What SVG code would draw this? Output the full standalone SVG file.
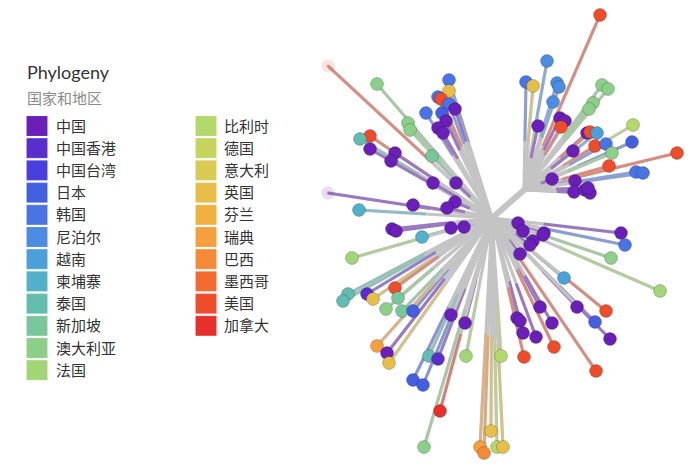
<svg xmlns="http://www.w3.org/2000/svg" width="700" height="473" viewBox="0 0 700 473">
<style>
.t{font-family:Lato,"Noto Sans","Noto Sans CJK SC",sans-serif}
.h{font-size:18px;fill:#333}
.sub{font-size:15px;fill:#8a8a8a;font-family:"Noto Sans CJK SC",sans-serif}
.lab{font-size:15px;fill:#333;font-family:"Noto Sans CJK SC",sans-serif}
.sw{stroke-width:1;stroke-opacity:.9}
.g{fill:none;stroke:#c4c4c4;stroke-width:3.2;stroke-linecap:round}
.o{fill:none;stroke-width:3;stroke-opacity:.45;stroke-dasharray:55 300}
.n{stroke:#000;stroke-opacity:.2;stroke-width:1}
.pale{fill-opacity:.15;stroke-opacity:.03}
.fpu{fill:#6a1fb8}.spu{stroke:#6a1fb8}
.fhk{fill:#5b2dcc}.shk{stroke:#5b2dcc}
.ftw{fill:#4a3fdc}.stw{stroke:#4a3fdc}
.fjp{fill:#4460e0}.sjp{stroke:#4460e0}
.fkr{fill:#4a74e4}.skr{stroke:#4a74e4}
.fnp{fill:#4b8de0}.snp{stroke:#4b8de0}
.fvn{fill:#4aa0d8}.svn{stroke:#4aa0d8}
.fkh{fill:#52b0c8}.skh{stroke:#52b0c8}
.fth{fill:#62bcb0}.sth{stroke:#62bcb0}
.fsg{fill:#78c69a}.ssg{stroke:#78c69a}
.fau{fill:#8ccf88}.sau{stroke:#8ccf88}
.ffr{fill:#a0d675}.sfr{stroke:#a0d675}
.fbe{fill:#b3d86c}.sbe{stroke:#b3d86c}
.fde{fill:#c6d45e}.sde{stroke:#c6d45e}
.fit{fill:#d9ca52}.sit{stroke:#d9ca52}
.fuk{fill:#e6be48}.suk{stroke:#e6be48}
.ffi{fill:#efb140}.sfi{stroke:#efb140}
.fse{fill:#f5a03c}.sse{stroke:#f5a03c}
.fbr{fill:#f48a36}.sbr{stroke:#f48a36}
.fmx{fill:#f26a30}.smx{stroke:#f26a30}
.fus{fill:#ef4c2c}.sus{stroke:#ef4c2c}
.fca{fill:#e8302a}.sca{stroke:#e8302a}
</style>
<rect width="700" height="473" fill="#fff"/>
<g id="legend">
<text class="t h" x="27" y="79">Phylogeny</text>
<text class="sub" x="27" y="104">国家和地区</text>
<g id="legend-items">
<rect class="sw fpu spu" x="27" y="116.5" width="20" height="19"/><text class="lab" x="56" y="131.5">中国</text>
<rect class="sw fhk shk" x="27" y="138.7" width="20" height="19"/><text class="lab" x="56" y="153.7">中国香港</text>
<rect class="sw ftw stw" x="27" y="160.9" width="20" height="19"/><text class="lab" x="56" y="175.9">中国台湾</text>
<rect class="sw fjp sjp" x="27" y="183.1" width="20" height="19"/><text class="lab" x="56" y="198.1">日本</text>
<rect class="sw fkr skr" x="27" y="205.3" width="20" height="19"/><text class="lab" x="56" y="220.3">韩国</text>
<rect class="sw fnp snp" x="27" y="227.5" width="20" height="19"/><text class="lab" x="56" y="242.5">尼泊尔</text>
<rect class="sw fvn svn" x="27" y="249.7" width="20" height="19"/><text class="lab" x="56" y="264.7">越南</text>
<rect class="sw fkh skh" x="27" y="271.9" width="20" height="19"/><text class="lab" x="56" y="286.9">柬埔寨</text>
<rect class="sw fth sth" x="27" y="294.1" width="20" height="19"/><text class="lab" x="56" y="309.1">泰国</text>
<rect class="sw fsg ssg" x="27" y="316.3" width="20" height="19"/><text class="lab" x="56" y="331.3">新加坡</text>
<rect class="sw fau sau" x="27" y="338.5" width="20" height="19"/><text class="lab" x="56" y="353.5">澳大利亚</text>
<rect class="sw ffr sfr" x="27" y="360.7" width="20" height="19"/><text class="lab" x="56" y="375.7">法国</text>
<rect class="sw fbe sbe" x="196" y="116.5" width="20" height="19"/><text class="lab" x="224" y="131.5">比利时</text>
<rect class="sw fde sde" x="196" y="138.7" width="20" height="19"/><text class="lab" x="224" y="153.7">德国</text>
<rect class="sw fit sit" x="196" y="160.9" width="20" height="19"/><text class="lab" x="224" y="175.9">意大利</text>
<rect class="sw fuk suk" x="196" y="183.1" width="20" height="19"/><text class="lab" x="224" y="198.1">英国</text>
<rect class="sw ffi sfi" x="196" y="205.3" width="20" height="19"/><text class="lab" x="224" y="220.3">芬兰</text>
<rect class="sw fse sse" x="196" y="227.5" width="20" height="19"/><text class="lab" x="224" y="242.5">瑞典</text>
<rect class="sw fbr sbr" x="196" y="249.7" width="20" height="19"/><text class="lab" x="224" y="264.7">巴西</text>
<rect class="sw fmx smx" x="196" y="271.9" width="20" height="19"/><text class="lab" x="224" y="286.9">墨西哥</text>
<rect class="sw fus sus" x="196" y="294.1" width="20" height="19"/><text class="lab" x="224" y="309.1">美国</text>
<rect class="sw fca sca" x="196" y="316.3" width="20" height="19"/><text class="lab" x="224" y="331.3">加拿大</text>
</g>
</g>
<g id="connectors">
<path class="g" style="stroke-width:6" d="M492 218L524 190"/>
<path class="g" d="M492 218L328 66"/><path class="o sus" d="M328 66L492 218" pathLength="100" style="stroke-dasharray:62 300"/>
<path class="g" d="M492 218L377 84"/><path class="o sau" d="M377 84L492 218" pathLength="100" style="stroke-dasharray:60 300"/>
<path class="g" d="M492 218L408 123"/><path class="o sau" d="M408 123L492 218" pathLength="100" style="stroke-dasharray:40 300"/>
<path class="g" d="M492 218L410 130"/><path class="o sau" d="M410 130L492 218" pathLength="100" style="stroke-dasharray:40 300"/>
<path class="g" d="M492 218L432 156"/><path class="o ssg" d="M432 156L492 218" pathLength="100" style="stroke-dasharray:35 300"/>
<path class="g" d="M492 218L449 80"/><path class="o skr" d="M449 80L492 218" pathLength="100" style="stroke-dasharray:45 300"/>
<path class="g" d="M492 218L449 91"/><path class="o suk" d="M449 91L492 218" pathLength="100" style="stroke-dasharray:40 300"/>
<path class="g" d="M492 218L438 97"/><path class="o skr" d="M438 97L492 218" pathLength="100" style="stroke-dasharray:45 300"/>
<path class="g" d="M492 218L441 99"/><path class="o sus" d="M441 99L492 218" pathLength="100" style="stroke-dasharray:40 300"/>
<path class="g" d="M492 218L449 104"/><path class="o skr" d="M449 104L492 218" pathLength="100" style="stroke-dasharray:35 300"/>
<path class="g" d="M492 218L455 109"/><path class="o spu" d="M455 109L492 218" pathLength="100" style="stroke-dasharray:30 300"/>
<path class="g" d="M492 218L426 113"/><path class="o skr" d="M426 113L492 218" pathLength="100" style="stroke-dasharray:40 300"/>
<path class="g" d="M492 218L442 113"/><path class="o sjp" d="M442 113L492 218" pathLength="100" style="stroke-dasharray:35 300"/>
<path class="g" d="M492 218L446 121"/><path class="o spu" d="M446 121L492 218" pathLength="100" style="stroke-dasharray:30 300"/>
<path class="g" d="M492 218L438 128"/><path class="o spu" d="M438 128L492 218" pathLength="100" style="stroke-dasharray:30 300"/>
<path class="g" d="M492 218L443 133"/><path class="o spu" d="M443 133L492 218" pathLength="100" style="stroke-dasharray:30 300"/>
<path class="g" d="M492 218L370 136"/><path class="o sus" d="M370 136L492 218" pathLength="100" style="stroke-dasharray:45 300"/>
<path class="g" d="M492 218L360 139"/><path class="o sth" d="M360 139L492 218" pathLength="100" style="stroke-dasharray:45 300"/>
<path class="g" d="M492 218L370 149"/><path class="o spu" d="M370 149L492 218" pathLength="100" style="stroke-dasharray:45 300"/>
<path class="g" d="M492 218L395 153"/><path class="o spu" d="M395 153L492 218" pathLength="100" style="stroke-dasharray:40 300"/>
<path class="g" d="M492 218L391 161"/><path class="o spu" d="M391 161L492 218" pathLength="100" style="stroke-dasharray:40 300"/>
<path class="g" d="M492 218L433 183"/><path class="o spu" d="M433 183L492 218" pathLength="100" style="stroke-dasharray:40 300"/>
<path class="g" d="M492 218L456 183"/><path class="o spu" d="M456 183L492 218" pathLength="100" style="stroke-dasharray:40 300"/>
<path class="g" d="M492 218L328 193"/><path class="o spu" d="M328 193L492 218" pathLength="100" style="stroke-dasharray:62 300"/>
<path class="g" d="M492 218L413 205"/><path class="o spu" d="M413 205L492 218" pathLength="100" style="stroke-dasharray:50 300"/>
<path class="g" d="M492 218L455 202"/><path class="o spu" d="M455 202L492 218" pathLength="100" style="stroke-dasharray:40 300"/>
<path class="g" d="M492 218L447 208"/><path class="o spu" d="M447 208L492 218" pathLength="100" style="stroke-dasharray:40 300"/>
<path class="g" d="M492 218L359 210"/><path class="o skh" d="M359 210L492 218" pathLength="100" style="stroke-dasharray:50 300"/>
<path class="g" d="M492 218L392 229"/><path class="o spu" d="M392 229L492 218" pathLength="100" style="stroke-dasharray:55 300"/>
<path class="g" d="M492 218L396 231"/><path class="o spu" d="M396 231L492 218" pathLength="100" style="stroke-dasharray:55 300"/>
<path class="g" d="M492 218L451 228"/><path class="o spu" d="M451 228L492 218" pathLength="100" style="stroke-dasharray:40 300"/>
<path class="g" d="M492 218L464 227"/><path class="o spu" d="M464 227L492 218" pathLength="100" style="stroke-dasharray:40 300"/>
<path class="g" d="M492 218L422 237"/><path class="o skh" d="M422 237L492 218" pathLength="100" style="stroke-dasharray:40 300"/>
<path class="g" d="M492 218L352 258"/><path class="o sfr" d="M352 258L492 218" pathLength="100" style="stroke-dasharray:55 300"/>
<path class="g" d="M492 218L348 294"/><path class="o sth" d="M348 294L492 218" pathLength="100" style="stroke-dasharray:55 300"/>
<path class="g" d="M492 218L343 301"/><path class="o sth" d="M343 301L492 218" pathLength="100" style="stroke-dasharray:55 300"/>
<path class="g" d="M492 218L367 294"/><path class="o shk" d="M367 294L492 218" pathLength="100" style="stroke-dasharray:55 300"/>
<path class="g" d="M492 218L373 299"/><path class="o suk" d="M373 299L492 218" pathLength="100" style="stroke-dasharray:50 300"/>
<path class="g" d="M492 218L395 288"/><path class="o sus" d="M395 288L492 218" pathLength="100" style="stroke-dasharray:45 300"/>
<path class="g" d="M492 218L398 298"/><path class="o ssg" d="M398 298L492 218" pathLength="100" style="stroke-dasharray:45 300"/>
<path class="g" d="M492 218L386 309"/><path class="o sau" d="M386 309L492 218" pathLength="100" style="stroke-dasharray:45 300"/>
<path class="g" d="M492 218L402 311"/><path class="o ssg" d="M402 311L492 218" pathLength="100" style="stroke-dasharray:45 300"/>
<path class="g" d="M492 218L413 311"/><path class="o sjp" d="M413 311L492 218" pathLength="100" style="stroke-dasharray:45 300"/>
<path class="g" d="M492 218L377 346"/><path class="o sse" d="M377 346L492 218" pathLength="100" style="stroke-dasharray:50 300"/>
<path class="g" d="M492 218L387 353"/><path class="o spu" d="M387 353L492 218" pathLength="100" style="stroke-dasharray:55 300"/>
<path class="g" d="M492 218L389 363"/><path class="o suk" d="M389 363L492 218" pathLength="100" style="stroke-dasharray:55 300"/>
<path class="g" d="M492 218L451 315"/><path class="o spu" d="M451 315L492 218" pathLength="100" style="stroke-dasharray:40 300"/>
<path class="g" d="M492 218L465 323"/><path class="o spu" d="M465 323L492 218" pathLength="100" style="stroke-dasharray:40 300"/>
<path class="g" d="M492 218L429 356"/><path class="o sth" d="M429 356L492 218" pathLength="100" style="stroke-dasharray:45 300"/>
<path class="g" d="M492 218L438 359"/><path class="o shk" d="M438 359L492 218" pathLength="100" style="stroke-dasharray:50 300"/>
<path class="g" d="M492 218L466 356"/><path class="o sfr" d="M466 356L492 218" pathLength="100" style="stroke-dasharray:45 300"/>
<path class="g" d="M492 218L413 380"/><path class="o sjp" d="M413 380L492 218" pathLength="100" style="stroke-dasharray:45 300"/>
<path class="g" d="M492 218L423 385"/><path class="o sjp" d="M423 385L492 218" pathLength="100" style="stroke-dasharray:45 300"/>
<path class="g" d="M492 218L440 411"/><path class="o sca" d="M440 411L492 218" pathLength="100" style="stroke-dasharray:40 300"/>
<path class="g" d="M492 218L424 447"/><path class="o sau" d="M424 447L492 218" pathLength="100" style="stroke-dasharray:60 300"/>
<path class="g" d="M492 218L491 431"/><path class="o suk" d="M491 431L492 218" pathLength="100" style="stroke-dasharray:45 300"/>
<path class="g" d="M492 218L480 447"/><path class="o sse" d="M480 447L492 218" pathLength="100" style="stroke-dasharray:50 300"/>
<path class="g" d="M492 218L484 453"/><path class="o sbr" d="M484 453L492 218" pathLength="100" style="stroke-dasharray:50 300"/>
<path class="g" d="M492 218L497 447"/><path class="o sbe" d="M497 447L492 218" pathLength="100" style="stroke-dasharray:45 300"/>
<path class="g" d="M492 218L503 447"/><path class="o suk" d="M503 447L492 218" pathLength="100" style="stroke-dasharray:45 300"/>
<path class="g" d="M492 218L501 356"/><path class="o sbe" d="M501 356L492 218" pathLength="100" style="stroke-dasharray:40 300"/>
<path class="g" d="M492 218L518 223"/><path class="o spu" d="M518 223L492 218" pathLength="100" style="stroke-dasharray:50 300"/>
<path class="g" d="M492 218L523 231"/><path class="o spu" d="M523 231L492 218" pathLength="100" style="stroke-dasharray:50 300"/>
<path class="g" d="M492 218L544 233"/><path class="o spu" d="M544 233L492 218" pathLength="100" style="stroke-dasharray:50 300"/>
<path class="g" d="M492 218L543 235"/><path class="o spu" d="M543 235L492 218" pathLength="100" style="stroke-dasharray:50 300"/>
<path class="g" d="M492 218L621 233"/><path class="o spu" d="M621 233L492 218" pathLength="100" style="stroke-dasharray:60 300"/>
<path class="g" d="M492 218L625 245"/><path class="o skr" d="M625 245L492 218" pathLength="100" style="stroke-dasharray:60 300"/>
<path class="g" d="M492 218L533 241"/><path class="o spu" d="M533 241L492 218" pathLength="100" style="stroke-dasharray:40 300"/>
<path class="g" d="M492 218L530 245"/><path class="o spu" d="M530 245L492 218" pathLength="100" style="stroke-dasharray:40 300"/>
<path class="g" d="M492 218L520 254"/><path class="o spu" d="M520 254L492 218" pathLength="100" style="stroke-dasharray:40 300"/>
<path class="g" d="M492 218L611 258"/><path class="o sau" d="M611 258L492 218" pathLength="100" style="stroke-dasharray:60 300"/>
<path class="g" d="M492 218L660 291"/><path class="o sfr" d="M660 291L492 218" pathLength="100" style="stroke-dasharray:60 300"/>
<path class="g" d="M492 218L564 278"/><path class="o svn" d="M564 278L492 218" pathLength="100" style="stroke-dasharray:40 300"/>
<path class="g" d="M492 218L606 311"/><path class="o sus" d="M606 311L492 218" pathLength="100" style="stroke-dasharray:40 300"/>
<path class="g" d="M492 218L540 307"/><path class="o spu" d="M540 307L492 218" pathLength="100" style="stroke-dasharray:45 300"/>
<path class="g" d="M492 218L577 307"/><path class="o spu" d="M577 307L492 218" pathLength="100" style="stroke-dasharray:40 300"/>
<path class="g" d="M492 218L595 322"/><path class="o sjp" d="M595 322L492 218" pathLength="100" style="stroke-dasharray:35 300"/>
<path class="g" d="M492 218L610 339"/><path class="o spu" d="M610 339L492 218" pathLength="100" style="stroke-dasharray:30 300"/>
<path class="g" d="M492 218L517 318"/><path class="o spu" d="M517 318L492 218" pathLength="100" style="stroke-dasharray:50 300"/>
<path class="g" d="M492 218L520 321"/><path class="o spu" d="M520 321L492 218" pathLength="100" style="stroke-dasharray:50 300"/>
<path class="g" d="M492 218L552 323"/><path class="o spu" d="M552 323L492 218" pathLength="100" style="stroke-dasharray:45 300"/>
<path class="g" d="M492 218L523 333"/><path class="o spu" d="M523 333L492 218" pathLength="100" style="stroke-dasharray:45 300"/>
<path class="g" d="M492 218L536 337"/><path class="o spu" d="M536 337L492 218" pathLength="100" style="stroke-dasharray:45 300"/>
<path class="g" d="M492 218L554 347"/><path class="o sus" d="M554 347L492 218" pathLength="100" style="stroke-dasharray:60 300"/>
<path class="g" d="M492 218L524 357"/><path class="o sus" d="M524 357L492 218" pathLength="100" style="stroke-dasharray:50 300"/>
<path class="g" d="M492 218L596 371"/><path class="o sus" d="M596 371L492 218" pathLength="100" style="stroke-dasharray:75 300"/>
<path class="g" d="M524 190L600 15"/><path class="o sus" d="M600 15L524 190" pathLength="100" style="stroke-dasharray:75 300"/>
<path class="g" d="M524 190L547 61"/><path class="o snp" d="M547 61L524 190" pathLength="100" style="stroke-dasharray:55 300"/>
<path class="g" d="M524 190L526 82"/><path class="o skr" d="M526 82L524 190" pathLength="100" style="stroke-dasharray:55 300"/>
<path class="g" d="M524 190L533 86"/><path class="o suk" d="M533 86L524 190" pathLength="100" style="stroke-dasharray:55 300"/>
<path class="g" d="M524 190L557 83"/><path class="o snp" d="M557 83L524 190" pathLength="100" style="stroke-dasharray:50 300"/>
<path class="g" d="M524 190L559 87"/><path class="o snp" d="M559 87L524 190" pathLength="100" style="stroke-dasharray:50 300"/>
<path class="g" d="M524 190L553 102"/><path class="o snp" d="M553 102L524 190" pathLength="100" style="stroke-dasharray:40 300"/>
<path class="g" d="M524 190L538 126"/><path class="o spu" d="M538 126L524 190" pathLength="100" style="stroke-dasharray:50 300"/>
<path class="g" d="M524 190L560 118"/><path class="o spu" d="M560 118L524 190" pathLength="100" style="stroke-dasharray:45 300"/>
<path class="g" d="M524 190L565 121"/><path class="o spu" d="M565 121L524 190" pathLength="100" style="stroke-dasharray:45 300"/>
<path class="g" d="M524 190L561 127"/><path class="o sus" d="M561 127L524 190" pathLength="100" style="stroke-dasharray:45 300"/>
<path class="g" d="M524 190L602 85"/><path class="o sau" d="M602 85L524 190" pathLength="100" style="stroke-dasharray:50 300"/>
<path class="g" d="M524 190L608 89"/><path class="o sau" d="M608 89L524 190" pathLength="100" style="stroke-dasharray:50 300"/>
<path class="g" d="M524 190L593 103"/><path class="o sau" d="M593 103L524 190" pathLength="100" style="stroke-dasharray:40 300"/>
<path class="g" d="M524 190L589 109"/><path class="o sau" d="M589 109L524 190" pathLength="100" style="stroke-dasharray:40 300"/>
<path class="g" d="M524 190L633 125"/><path class="o sbe" d="M633 125L524 190" pathLength="100" style="stroke-dasharray:50 300"/>
<path class="g" d="M524 190L587 133"/><path class="o spu" d="M587 133L524 190" pathLength="100" style="stroke-dasharray:45 300"/>
<path class="g" d="M524 190L590 132"/><path class="o sus" d="M590 132L524 190" pathLength="100" style="stroke-dasharray:45 300"/>
<path class="g" d="M524 190L597 133"/><path class="o svn" d="M597 133L524 190" pathLength="100" style="stroke-dasharray:45 300"/>
<path class="g" d="M524 190L573 151"/><path class="o spu" d="M573 151L524 190" pathLength="100" style="stroke-dasharray:45 300"/>
<path class="g" d="M524 190L595 146"/><path class="o sus" d="M595 146L524 190" pathLength="100" style="stroke-dasharray:45 300"/>
<path class="g" d="M524 190L606 144"/><path class="o skr" d="M606 144L524 190" pathLength="100" style="stroke-dasharray:45 300"/>
<path class="g" d="M524 190L632 142"/><path class="o sjp" d="M632 142L524 190" pathLength="100" style="stroke-dasharray:50 300"/>
<path class="g" d="M524 190L612 153"/><path class="o sau" d="M612 153L524 190" pathLength="100" style="stroke-dasharray:50 300"/>
<path class="g" d="M524 190L677 153"/><path class="o sus" d="M677 153L524 190" pathLength="100" style="stroke-dasharray:65 300"/>
<path class="g" d="M524 190L609 166"/><path class="o sus" d="M609 166L524 190" pathLength="100" style="stroke-dasharray:55 300"/>
<path class="g" d="M524 190L552 179"/><path class="o spu" d="M552 179L524 190" pathLength="100" style="stroke-dasharray:40 300"/>
<path class="g" d="M524 190L575 181"/><path class="o spu" d="M575 181L524 190" pathLength="100" style="stroke-dasharray:45 300"/>
<path class="g" d="M524 190L636 172"/><path class="o skr" d="M636 172L524 190" pathLength="100" style="stroke-dasharray:55 300"/>
<path class="g" d="M524 190L643 173"/><path class="o skr" d="M643 173L524 190" pathLength="100" style="stroke-dasharray:55 300"/>
<path class="g" d="M524 190L574 192"/><path class="o spu" d="M574 192L524 190" pathLength="100" style="stroke-dasharray:50 300"/>
<path class="g" d="M524 190L585 190"/><path class="o spu" d="M585 190L524 190" pathLength="100" style="stroke-dasharray:50 300"/>
<path class="g" d="M524 190L590 193"/><path class="o spu" d="M590 193L524 190" pathLength="100" style="stroke-dasharray:50 300"/>
<path class="g" d="M524 190L588 188"/><path class="o spu" d="M588 188L524 190" pathLength="100" style="stroke-dasharray:50 300"/>
</g>
<g id="nodes">
<g id="n1"><circle class="n fus pale" cx="328" cy="66" r="6.5"/></g>
<g id="n2"><circle class="n fau" cx="377" cy="84" r="6.5"/></g>
<g id="n3"><circle class="n fau" cx="408" cy="123" r="6.5"/></g>
<g id="n4"><circle class="n fau" cx="410" cy="130" r="6.5"/></g>
<g id="n5"><circle class="n fsg" cx="432" cy="156" r="6.5"/></g>
<g id="n6"><circle class="n fkr" cx="449" cy="80" r="6.5"/></g>
<g id="n7"><circle class="n fuk" cx="449" cy="91" r="6.5"/></g>
<g id="n8"><circle class="n fkr" cx="438" cy="97" r="6.5"/></g>
<g id="n9"><circle class="n fus" cx="441" cy="99" r="6.5"/></g>
<g id="n10"><circle class="n fkr" cx="449" cy="104" r="6.5"/></g>
<g id="n11"><circle class="n fpu" cx="455" cy="109" r="6.5"/></g>
<g id="n12"><circle class="n fkr" cx="426" cy="113" r="6.5"/></g>
<g id="n13"><circle class="n fjp" cx="442" cy="113" r="6.5"/></g>
<g id="n14"><circle class="n fpu" cx="446" cy="121" r="6.5"/></g>
<g id="n15"><circle class="n fpu" cx="438" cy="128" r="6.5"/></g>
<g id="n16"><circle class="n fpu" cx="443" cy="133" r="6.5"/></g>
<g id="n17"><circle class="n fus" cx="370" cy="136" r="6.5"/></g>
<g id="n18"><circle class="n fth" cx="360" cy="139" r="6.5"/></g>
<g id="n19"><circle class="n fpu" cx="370" cy="149" r="6.5"/></g>
<g id="n20"><circle class="n fpu" cx="395" cy="153" r="6.5"/></g>
<g id="n21"><circle class="n fpu" cx="391" cy="161" r="6.5"/></g>
<g id="n22"><circle class="n fpu" cx="433" cy="183" r="6.5"/></g>
<g id="n23"><circle class="n fpu" cx="456" cy="183" r="6.5"/></g>
<g id="n24"><circle class="n fpu pale" cx="328" cy="193" r="6.5"/></g>
<g id="n25"><circle class="n fpu" cx="413" cy="205" r="6.5"/></g>
<g id="n26"><circle class="n fpu" cx="455" cy="202" r="6.5"/></g>
<g id="n27"><circle class="n fpu" cx="447" cy="208" r="6.5"/></g>
<g id="n28"><circle class="n fkh" cx="359" cy="210" r="6.5"/></g>
<g id="n29"><circle class="n fpu" cx="392" cy="229" r="6.5"/></g>
<g id="n30"><circle class="n fpu" cx="396" cy="231" r="6.5"/></g>
<g id="n31"><circle class="n fpu" cx="451" cy="228" r="6.5"/></g>
<g id="n32"><circle class="n fpu" cx="464" cy="227" r="6.5"/></g>
<g id="n33"><circle class="n fkh" cx="422" cy="237" r="6.5"/></g>
<g id="n34"><circle class="n ffr" cx="352" cy="258" r="6.5"/></g>
<g id="n35"><circle class="n fth" cx="348" cy="294" r="6.5"/></g>
<g id="n36"><circle class="n fth" cx="343" cy="301" r="6.5"/></g>
<g id="n37"><circle class="n fhk" cx="367" cy="294" r="6.5"/></g>
<g id="n38"><circle class="n fuk" cx="373" cy="299" r="6.5"/></g>
<g id="n39"><circle class="n fus" cx="395" cy="288" r="6.5"/></g>
<g id="n40"><circle class="n fsg" cx="398" cy="298" r="6.5"/></g>
<g id="n41"><circle class="n fau" cx="386" cy="309" r="6.5"/></g>
<g id="n42"><circle class="n fsg" cx="402" cy="311" r="6.5"/></g>
<g id="n43"><circle class="n fjp" cx="413" cy="311" r="6.5"/></g>
<g id="n44"><circle class="n fse" cx="377" cy="346" r="6.5"/></g>
<g id="n45"><circle class="n fpu" cx="387" cy="353" r="6.5"/></g>
<g id="n46"><circle class="n fuk" cx="389" cy="363" r="6.5"/></g>
<g id="n47"><circle class="n fpu" cx="451" cy="315" r="6.5"/></g>
<g id="n48"><circle class="n fpu" cx="465" cy="323" r="6.5"/></g>
<g id="n49"><circle class="n fth" cx="429" cy="356" r="6.5"/></g>
<g id="n50"><circle class="n fhk" cx="438" cy="359" r="6.5"/></g>
<g id="n51"><circle class="n ffr" cx="466" cy="356" r="6.5"/></g>
<g id="n52"><circle class="n fjp" cx="413" cy="380" r="6.5"/></g>
<g id="n53"><circle class="n fjp" cx="423" cy="385" r="6.5"/></g>
<g id="n54"><circle class="n fca" cx="440" cy="411" r="6.5"/></g>
<g id="n55"><circle class="n fau" cx="424" cy="447" r="6.5"/></g>
<g id="n56"><circle class="n fuk" cx="491" cy="431" r="6.5"/></g>
<g id="n57"><circle class="n fse" cx="480" cy="447" r="6.5"/></g>
<g id="n58"><circle class="n fbr" cx="484" cy="453" r="6.5"/></g>
<g id="n59"><circle class="n fbe" cx="497" cy="447" r="6.5"/></g>
<g id="n60"><circle class="n fuk" cx="503" cy="447" r="6.5"/></g>
<g id="n61"><circle class="n fbe" cx="501" cy="356" r="6.5"/></g>
<g id="n62"><circle class="n fpu" cx="518" cy="223" r="6.5"/></g>
<g id="n63"><circle class="n fpu" cx="523" cy="231" r="6.5"/></g>
<g id="n64"><circle class="n fpu" cx="544" cy="233" r="6.5"/></g>
<g id="n65"><circle class="n fpu" cx="543" cy="235" r="6.5"/></g>
<g id="n66"><circle class="n fpu" cx="621" cy="233" r="6.5"/></g>
<g id="n67"><circle class="n fkr" cx="625" cy="245" r="6.5"/></g>
<g id="n68"><circle class="n fpu" cx="533" cy="241" r="6.5"/></g>
<g id="n69"><circle class="n fpu" cx="530" cy="245" r="6.5"/></g>
<g id="n70"><circle class="n fpu" cx="520" cy="254" r="6.5"/></g>
<g id="n71"><circle class="n fau" cx="611" cy="258" r="6.5"/></g>
<g id="n72"><circle class="n ffr" cx="660" cy="291" r="6.5"/></g>
<g id="n73"><circle class="n fvn" cx="564" cy="278" r="6.5"/></g>
<g id="n74"><circle class="n fus" cx="606" cy="311" r="6.5"/></g>
<g id="n75"><circle class="n fpu" cx="540" cy="307" r="6.5"/></g>
<g id="n76"><circle class="n fpu" cx="577" cy="307" r="6.5"/></g>
<g id="n77"><circle class="n fjp" cx="595" cy="322" r="6.5"/></g>
<g id="n78"><circle class="n fpu" cx="610" cy="339" r="6.5"/></g>
<g id="n79"><circle class="n fpu" cx="517" cy="318" r="6.5"/></g>
<g id="n80"><circle class="n fpu" cx="520" cy="321" r="6.5"/></g>
<g id="n81"><circle class="n fpu" cx="552" cy="323" r="6.5"/></g>
<g id="n82"><circle class="n fpu" cx="523" cy="333" r="6.5"/></g>
<g id="n83"><circle class="n fpu" cx="536" cy="337" r="6.5"/></g>
<g id="n84"><circle class="n fus" cx="554" cy="347" r="6.5"/></g>
<g id="n85"><circle class="n fus" cx="524" cy="357" r="6.5"/></g>
<g id="n86"><circle class="n fus" cx="596" cy="371" r="6.5"/></g>
<g id="n87"><circle class="n fus" cx="600" cy="15" r="6.5"/></g>
<g id="n88"><circle class="n fnp" cx="547" cy="61" r="6.5"/></g>
<g id="n89"><circle class="n fkr" cx="526" cy="82" r="6.5"/></g>
<g id="n90"><circle class="n fuk" cx="533" cy="86" r="6.5"/></g>
<g id="n91"><circle class="n fnp" cx="557" cy="83" r="6.5"/></g>
<g id="n92"><circle class="n fnp" cx="559" cy="87" r="6.5"/></g>
<g id="n93"><circle class="n fnp" cx="553" cy="102" r="6.5"/></g>
<g id="n94"><circle class="n fpu" cx="538" cy="126" r="6.5"/></g>
<g id="n95"><circle class="n fpu" cx="560" cy="118" r="6.5"/></g>
<g id="n96"><circle class="n fpu" cx="565" cy="121" r="6.5"/></g>
<g id="n97"><circle class="n fus" cx="561" cy="127" r="6.5"/></g>
<g id="n98"><circle class="n fau" cx="602" cy="85" r="6.5"/></g>
<g id="n99"><circle class="n fau" cx="608" cy="89" r="6.5"/></g>
<g id="n100"><circle class="n fau" cx="593" cy="103" r="6.5"/></g>
<g id="n101"><circle class="n fau" cx="589" cy="109" r="6.5"/></g>
<g id="n102"><circle class="n fbe" cx="633" cy="125" r="6.5"/></g>
<g id="n103"><circle class="n fpu" cx="587" cy="133" r="6.5"/></g>
<g id="n104"><circle class="n fus" cx="590" cy="132" r="6.5"/></g>
<g id="n105"><circle class="n fvn" cx="597" cy="133" r="6.5"/></g>
<g id="n106"><circle class="n fpu" cx="573" cy="151" r="6.5"/></g>
<g id="n107"><circle class="n fus" cx="595" cy="146" r="6.5"/></g>
<g id="n108"><circle class="n fkr" cx="606" cy="144" r="6.5"/></g>
<g id="n109"><circle class="n fjp" cx="632" cy="142" r="6.5"/></g>
<g id="n110"><circle class="n fau" cx="612" cy="153" r="6.5"/></g>
<g id="n111"><circle class="n fus" cx="677" cy="153" r="6.5"/></g>
<g id="n112"><circle class="n fus" cx="609" cy="166" r="6.5"/></g>
<g id="n113"><circle class="n fpu" cx="552" cy="179" r="6.5"/></g>
<g id="n114"><circle class="n fpu" cx="575" cy="181" r="6.5"/></g>
<g id="n115"><circle class="n fkr" cx="636" cy="172" r="6.5"/></g>
<g id="n116"><circle class="n fkr" cx="643" cy="173" r="6.5"/></g>
<g id="n117"><circle class="n fpu" cx="574" cy="192" r="6.5"/></g>
<g id="n118"><circle class="n fpu" cx="585" cy="190" r="6.5"/></g>
<g id="n119"><circle class="n fpu" cx="590" cy="193" r="6.5"/></g>
<g id="n120"><circle class="n fpu" cx="588" cy="188" r="6.5"/></g>
</g>
</svg>
